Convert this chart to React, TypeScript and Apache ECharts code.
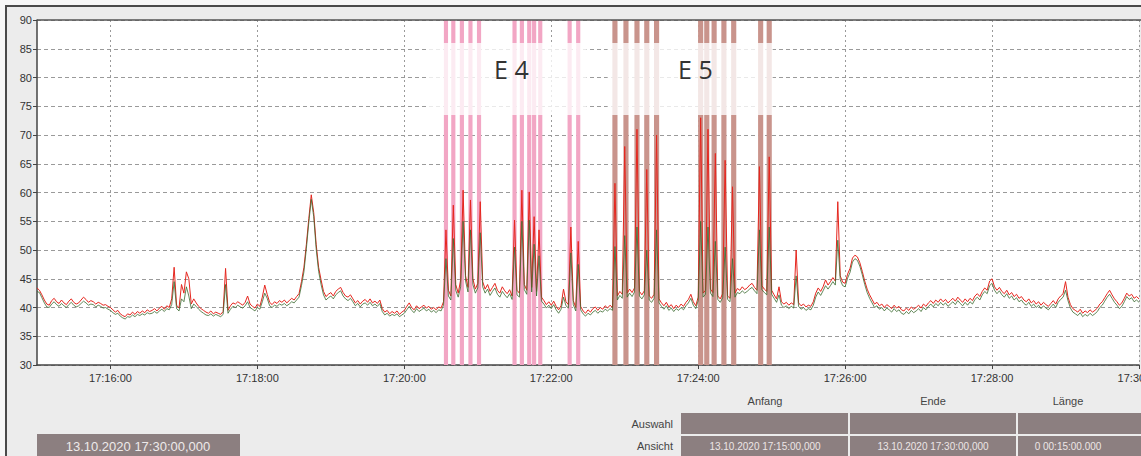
import React, { useEffect, useRef } from "react";
import * as echarts from "echarts";

// ---- data ----
const START = "17:15:00";
const END = "17:30:00";
const STEP_SECONDS = 2;

const xTickLabels = [
  "17:16:00", "17:18:00", "17:20:00", "17:22:00",
  "17:24:00", "17:26:00", "17:28:00", "17:30:00",
];

const redValues = [
  43.4, 43.0, 42.2, 41.3, 40.6, 40.4, 41.2, 41.6, 41.0, 40.7, 41.3, 40.8, 40.5, 41.1, 41.5, 40.9, 40.6, 40.8, 41.3, 41.8, 41.4, 40.9, 41.2, 41.0, 40.6, 40.9, 40.7, 40.4, 40.5, 40.2,
  40.0, 39.6, 39.2, 39.5, 38.9, 38.6, 38.4, 38.9, 38.7, 39.2, 38.8, 39.3, 39.0, 39.4, 39.1, 39.6, 39.3, 39.5, 39.8, 39.4, 39.9, 40.2, 39.7, 40.3, 40.0, 41.5, 47.0, 40.4, 39.9, 44.0,
  42.5, 46.2, 45.0, 40.6, 41.5, 40.8, 40.2, 39.8, 39.5, 39.2, 39.0, 39.4, 38.9, 39.2, 39.0, 38.8, 39.3, 46.8, 39.5, 40.3, 40.8, 40.6, 41.0, 40.7, 40.4, 40.9, 42.0, 40.6, 40.2, 39.9,
  40.6, 40.2, 41.8, 43.9, 42.3, 40.9, 40.5, 41.0, 40.7, 41.2, 40.9, 41.3, 40.8, 41.2, 41.6, 41.3, 41.9, 42.4, 44.5, 47.0, 51.0, 55.5, 59.6, 56.5, 51.0, 47.0, 44.8, 42.8, 41.9, 42.3,
  42.6, 42.0, 42.8, 43.2, 43.5, 42.6, 42.0, 41.8, 42.2, 41.5, 40.8, 41.2, 40.6, 41.1, 41.4, 40.9, 41.5, 40.8, 41.1, 40.7, 41.3, 39.8, 39.2, 39.5, 38.9, 39.3, 39.0, 39.4, 38.8, 39.2,
  39.5, 40.2, 40.8, 40.0, 39.6, 40.3, 39.8, 40.1, 40.4, 39.9, 40.2, 39.7, 40.0, 39.6, 40.1, 39.9, 41.0, 53.5, 43.0, 42.0, 57.8, 44.0, 42.5, 44.8, 60.4, 45.5, 43.5, 58.7, 45.0, 43.2,
  44.2, 58.4, 44.5, 43.2, 44.0, 42.8, 43.5, 44.2, 43.0, 42.5, 43.6, 42.9, 42.4, 43.1, 42.0, 55.2, 43.0, 42.5, 60.4, 44.0, 43.0, 60.1, 43.5, 55.8, 42.8, 53.5, 41.8, 41.2, 40.5, 41.0,
  40.4, 41.1, 40.2, 39.6, 40.3, 43.2, 41.0, 40.5, 54.0, 41.2, 40.0, 51.5, 40.2, 39.4, 39.0, 39.6, 39.2, 39.8, 40.1, 39.5, 40.0, 39.7, 40.3, 39.9, 40.4, 40.0, 61.6, 42.0, 42.8, 42.3,
  68.0, 42.5, 43.2, 42.6, 43.4, 71.0, 42.8, 42.2, 42.9, 64.0, 42.0, 41.6, 42.3, 70.0, 41.5, 40.8, 40.3, 40.9, 40.1, 40.5, 39.8, 40.4, 40.0, 40.6, 40.2, 40.9, 41.4, 42.3, 41.0, 40.3,
  41.8, 73.0, 42.5, 43.0, 71.0, 43.2, 42.6, 66.8, 42.0, 41.5, 42.4, 65.6, 42.0, 41.6, 61.0, 42.5, 43.3, 43.0, 43.6, 43.1, 43.4, 43.9, 44.2, 43.5, 43.0, 64.5, 43.8, 43.2, 42.8, 66.2,
  43.0, 42.2, 41.5, 43.6, 41.0, 40.6, 40.9, 40.4, 40.8, 40.5, 50.0, 40.8, 40.3, 40.6, 40.1, 40.4, 40.2, 41.0, 42.5, 43.4, 42.8, 43.6, 44.8, 43.9, 44.5, 45.2, 44.6, 58.4, 45.5, 44.4,
  44.2, 45.8, 46.8, 48.6, 49.1, 48.8, 47.8, 46.3, 44.6, 43.2, 42.2, 41.4, 40.6, 40.9, 40.3, 40.6, 40.0, 40.5, 40.2, 39.8, 40.4, 39.9, 40.2, 39.6, 39.4, 39.9, 39.5, 40.1, 39.7, 40.0,
  40.4, 39.9, 40.6, 40.2, 40.8, 41.2, 40.7, 41.3, 40.9, 41.5, 41.0, 41.4, 40.8, 41.2, 41.6, 41.1, 41.8, 41.3, 40.9, 41.5, 41.0, 41.6, 41.2, 42.0, 42.4, 41.9, 42.8, 43.4, 43.0, 44.6,
  45.0, 43.6, 43.0, 43.5, 42.8, 42.4, 43.0, 42.2, 42.6, 41.9, 42.3, 41.6, 41.9, 41.3, 41.0, 41.5, 40.8, 41.2, 40.6, 41.0, 40.4, 40.9, 40.5, 40.2, 40.7, 41.2, 40.6, 41.5, 42.0, 42.4,
  44.5, 41.8, 40.5, 39.8, 39.5, 39.2, 39.7, 39.0, 39.4, 39.1, 39.6, 39.2, 39.5, 39.9, 40.6, 41.0, 41.7, 42.4, 43.0, 42.2, 41.5, 41.0, 40.4, 40.8, 41.6, 42.5, 42.0, 42.3, 41.6, 41.9, 41.5,
];

const greenValues = [
  42.8, 42.6, 41.7, 40.8, 40.1, 40.0, 40.6, 41.0, 40.5, 40.2, 40.7, 40.3, 40.0, 40.5, 40.9, 40.4, 40.1, 40.3, 40.7, 41.1, 40.8, 40.4, 40.6, 40.5, 40.1, 40.4, 40.2, 39.9, 40.0, 39.7,
  39.5, 39.1, 38.8, 39.0, 38.5, 38.2, 38.0, 38.4, 38.3, 38.7, 38.4, 38.8, 38.6, 38.9, 38.7, 39.1, 38.9, 39.0, 39.3, 39.0, 39.4, 39.7, 39.3, 39.8, 39.6, 40.5, 44.5, 39.8, 39.4, 41.5,
  41.0, 43.6, 42.0, 39.8, 40.6, 40.2, 39.7, 39.3, 39.0, 38.7, 38.6, 38.9, 38.5, 38.8, 38.6, 38.4, 38.8, 44.0, 39.0, 39.7, 40.2, 40.0, 40.4, 40.1, 39.9, 40.3, 41.0, 40.0, 39.7, 39.4,
  40.0, 39.7, 41.0, 42.5, 41.6, 40.3, 40.0, 40.4, 40.2, 40.6, 40.4, 40.7, 40.3, 40.6, 41.0, 40.8, 41.3, 41.8, 43.8, 46.2, 50.3, 54.8, 58.8, 55.8, 50.2, 46.3, 44.0, 42.2, 41.3, 41.7,
  42.0, 41.5, 42.2, 42.6, 42.9, 42.0, 41.5, 41.2, 41.6, 41.0, 40.3, 40.7, 40.1, 40.6, 40.8, 40.4, 40.9, 40.3, 40.6, 40.2, 40.7, 39.3, 38.7, 39.0, 38.5, 38.8, 38.6, 38.9, 38.4, 38.7,
  39.0, 39.6, 40.2, 39.5, 39.1, 39.8, 39.3, 39.6, 39.9, 39.4, 39.7, 39.2, 39.5, 39.1, 39.6, 39.4, 40.4, 48.5, 42.0, 41.3, 52.0, 43.0, 41.8, 43.6, 55.0, 44.6, 42.7, 53.5, 44.0, 42.5,
  43.4, 53.0, 43.6, 42.5, 43.2, 42.1, 42.8, 43.4, 42.3, 41.8, 42.8, 42.2, 41.7, 42.4, 41.4, 50.5, 42.2, 41.8, 55.0, 43.1, 42.3, 55.2, 42.7, 51.0, 42.0, 49.0, 41.1, 40.6, 39.9, 40.4,
  39.8, 40.5, 39.6, 39.0, 39.7, 41.8, 40.3, 39.9, 49.5, 40.5, 39.4, 47.5, 39.6, 38.9, 38.5, 39.0, 38.7, 39.2, 39.5, 39.0, 39.4, 39.2, 39.7, 39.4, 39.8, 39.5, 50.6, 41.3, 42.1, 41.6,
  52.5, 41.8, 42.5, 41.9, 42.7, 54.0, 42.0, 41.5, 42.2, 50.0, 41.3, 40.9, 41.6, 53.5, 40.8, 40.2, 39.7, 40.3, 39.5, 39.9, 39.3, 39.8, 39.5, 40.0, 39.6, 40.3, 40.8, 41.6, 40.4, 39.8,
  41.2, 55.0, 41.8, 42.3, 54.0, 42.5, 41.9, 51.5, 41.4, 40.9, 41.7, 50.5, 41.4, 41.0, 48.5, 41.8, 42.6, 42.4, 42.9, 42.5, 42.8, 43.2, 43.5, 42.9, 42.4, 53.5, 43.1, 42.6, 42.2, 54.0,
  42.3, 41.6, 40.9, 42.2, 40.4, 40.0, 40.3, 39.8, 40.2, 39.9, 45.5, 40.2, 39.7, 40.0, 39.5, 39.8, 39.6, 40.4, 41.8, 42.7, 42.1, 42.9, 43.8, 43.2, 43.8, 44.5, 43.9, 51.7, 44.8, 43.8,
  43.6, 45.1, 46.1, 47.9, 48.5, 48.2, 47.2, 45.7, 44.0, 42.6, 41.6, 40.8, 40.0, 40.3, 39.7, 40.0, 39.4, 39.9, 39.6, 39.2, 39.8, 39.3, 39.6, 39.0, 38.8, 39.3, 38.9, 39.5, 39.1, 39.4,
  39.8, 39.3, 40.0, 39.6, 40.2, 40.6, 40.1, 40.7, 40.3, 40.9, 40.4, 40.8, 40.2, 40.6, 41.0, 40.5, 41.2, 40.7, 40.3, 40.9, 40.4, 41.0, 40.6, 41.4, 41.8, 41.3, 42.2, 42.8, 42.4, 43.8,
  44.2, 43.0, 42.4, 42.9, 42.2, 41.8, 42.4, 41.6, 42.0, 41.3, 41.7, 41.0, 41.3, 40.7, 40.4, 40.9, 40.2, 40.6, 40.0, 40.4, 39.8, 40.3, 39.9, 39.6, 40.1, 40.6, 40.0, 40.9, 41.4, 41.8,
  43.0, 41.2, 39.9, 39.2, 38.9, 38.6, 39.1, 38.4, 38.8, 38.5, 39.0, 38.6, 38.9, 39.3, 40.0, 40.4, 41.1, 41.8, 42.3, 41.6, 40.9, 40.4, 39.8, 40.2, 41.0, 41.9, 41.4, 41.7, 41.0, 41.3, 40.9,
];

const e4Bands = [
  "17:20:34", "17:20:40", "17:20:47", "17:20:54", "17:21:01",
  "17:21:30", "17:21:36", "17:21:42", "17:21:46", "17:21:51",
  "17:22:15", "17:22:22",
];
const e5Bands = [
  "17:22:52", "17:23:01", "17:23:10", "17:23:18", "17:23:26",
  "17:24:02", "17:24:07", "17:24:13", "17:24:21", "17:24:29",
  "17:24:51", "17:24:58",
];
const e4Span = ["17:20:18", "17:22:29"];
const e5Span = ["17:22:46", "17:25:01"];
const fadeRange = [73.5, 86];
const eventLabels = ["E 4", "E 5"];

const Y_MIN = 30;
const Y_MAX = 90;
const Y_STEP = 5;

const tableHeaders = ["Anfang", "Ende", "Länge"];
const rowLabels = ["Auswahl", "Ansicht"];
const ansichtValues = ["13.10.2020 17:15:00,000", "13.10.2020 17:30:00,000", "0 00:15:00.000"];
const cursorLabel = "13.10.2020 17:30:00,000";

// ---- helpers ----
const toTs = (hms: string) => {
  const [h, m, s] = hms.split(":").map(Number);
  return new Date(2020, 9, 13, h, m, s).getTime();
};
const startTs = toTs(START);
const toSeries = (vals: number[]) => vals.map((v, i) => [startTs + i * STEP_SECONDS * 1000, v]);
const pad = (n: number) => String(n).padStart(2, "0");
const fmtTime = (v: number) => {
  const d = new Date(v);
  return `${pad(d.getHours())}:${pad(d.getMinutes())}:${pad(d.getSeconds())}`;
};

const bandAreas = (bands: string[], half: number, color: string) =>
  bands.map((b) => {
    const c = toTs(b);
    return [
      { xAxis: c - half * 1000, itemStyle: { color } },
      { xAxis: c + half * 1000 },
    ];
  });

export default function App() {
  const ref = useRef<HTMLDivElement>(null);

  useEffect(() => {
    if (!ref.current) return;
    const chart = echarts.init(ref.current, null, { renderer: "svg" });

    const font = "'Liberation Sans', Arial, sans-serif";
    const cellFill = "#8c7f80";
    const cols = [
      { x: 681, w: 167 },
      { x: 850, w: 166 },
      { x: 1018, w: 123 },
    ];
    const colCenters = [765, 933, 1068];
    const tickValues = xTickLabels.map(toTs);

    const graphic: any[] = [
      {
        type: "rect",
        z: -100,
        shape: { x: 6, y: 6, width: 1150, height: 470 },
        style: { fill: "#ececec", stroke: "#4a4a4a", lineWidth: 2 },
      },
      {
        type: "line",
        z: 100,
        shape: { x1: 37, y1: 20, x2: 1141, y2: 20 },
        style: { stroke: "#555", lineWidth: 1.5 },
      },
      {
        type: "text",
        z: 100,
        left: 512 - 18,
        top: 72 - 16,
        style: { text: eventLabels[0], font: "25px 'Open Sans', sans-serif", fill: "#333" },
      },
      {
        type: "text",
        z: 100,
        left: 696 - 18,
        top: 72 - 16,
        style: { text: eventLabels[1], font: "25px 'Open Sans', sans-serif", fill: "#333" },
      },
      {
        type: "rect",
        z: 100,
        shape: { x: 37, y: 434, width: 203, height: 30 },
        style: { fill: cellFill },
      },
      {
        type: "text",
        z: 101,
        x: 138,
        y: 446,
        style: {
          text: cursorLabel,
          font: `13px ${font}`,
          fill: "#eeeaea",
          align: "center",
          verticalAlign: "middle",
        },
      },
    ];

    tableHeaders.forEach((h, i) => {
      graphic.push({
        type: "text",
        z: 100,
        x: colCenters[i],
        y: 401,
        style: { text: h, font: `11px ${font}`, fill: "#444", align: "center", verticalAlign: "middle" },
      });
    });
    rowLabels.forEach((r, i) => {
      graphic.push({
        type: "text",
        z: 100,
        x: 673,
        y: i === 0 ? 424 : 446,
        style: { text: r, font: `11px ${font}`, fill: "#444", align: "right", verticalAlign: "middle" },
      });
    });
    cols.forEach((c, i) => {
      graphic.push({
        type: "rect",
        z: 100,
        shape: { x: c.x, y: 413, width: c.w, height: 21 },
        style: { fill: cellFill },
      });
      graphic.push({
        type: "rect",
        z: 100,
        shape: { x: c.x, y: 436, width: c.w, height: 24 },
        style: { fill: cellFill },
      });
      graphic.push({
        type: "text",
        z: 101,
        x: colCenters[i],
        y: 446,
        style: {
          text: ansichtValues[i],
          font: `10px ${font}`,
          fill: "#ece6e6",
          align: "center",
          verticalAlign: "middle",
        },
      });
    });

    const option: any = {
      animation: false,
      graphic,
      grid: {
        left: 37,
        top: 20,
        right: 2,
        bottom: 91,
        show: true,
        backgroundColor: "#ffffff",
        borderWidth: 0,
        containLabel: false,
        outerBoundsMode: "none",
      },
      xAxis: {
        type: "value",
        min: toTs(START),
        max: toTs(END),
        scale: true,
        axisLine: { show: true, lineStyle: { color: "#444", width: 1.5 } },
        axisTick: { show: true, length: 4, customValues: tickValues, lineStyle: { color: "#444" } },
        axisLabel: {
          customValues: tickValues,
          formatter: (v: number) => fmtTime(v),
          color: "#333",
          fontSize: 11,
          fontFamily: font,
          margin: 7,
          hideOverlap: false,
        },
        splitLine: { show: true, lineStyle: { color: "#9a9a9a", type: [2, 3], width: 1 } },
      },
      yAxis: {
        type: "value",
        min: Y_MIN,
        max: Y_MAX,
        interval: Y_STEP,
        axisLine: { show: true, lineStyle: { color: "#444", width: 1.5 } },
        axisTick: { show: true, length: 4, lineStyle: { color: "#444" } },
        axisLabel: { color: "#333", fontSize: 11, fontFamily: font, margin: 5 },
        splitLine: { show: true, lineStyle: { color: "#9a9a9a", type: [4, 3], width: 1 } },
      },
      series: [
        {
          type: "line",
          z: 1,
          data: [],
          silent: true,
          markArea: {
            silent: true,
            label: { show: false },
            data: [
              ...bandAreas(e4Bands, 1.7, "#f2a6c4"),
              ...bandAreas(e5Bands, 2.1, "#c9948c"),
            ],
          },
        },
        {
          type: "line",
          z: 2,
          data: [],
          silent: true,
          markArea: {
            silent: true,
            label: { show: false },
            itemStyle: { color: "rgba(255,255,255,0.78)" },
            data: [
              [
                { xAxis: toTs(e4Span[0]), yAxis: fadeRange[0] },
                { xAxis: toTs(e4Span[1]), yAxis: fadeRange[1] },
              ],
              [
                { xAxis: toTs(e5Span[0]), yAxis: fadeRange[0] },
                { xAxis: toTs(e5Span[1]), yAxis: fadeRange[1] },
              ],
            ],
          },
        },
        {
          name: "red",
          type: "line",
          z: 3,
          data: toSeries(redValues),
          showSymbol: false,
          symbol: "none",
          lineStyle: { color: "#e5261e", width: 1 },
        },
        {
          name: "green",
          type: "line",
          z: 4,
          data: toSeries(greenValues),
          showSymbol: false,
          symbol: "none",
          lineStyle: { color: "#3b6a30", width: 1, opacity: 0.8 },
        },
      ],
    };

    chart.setOption(option);
    return () => chart.dispose();
  }, []);

  return (
    <div
      ref={ref}
      style={{
        position: "fixed",
        left: 0,
        top: 0,
        width: 1141,
        height: 456,
        background: "#f7f7f7",
      }}
    />
  );
}
